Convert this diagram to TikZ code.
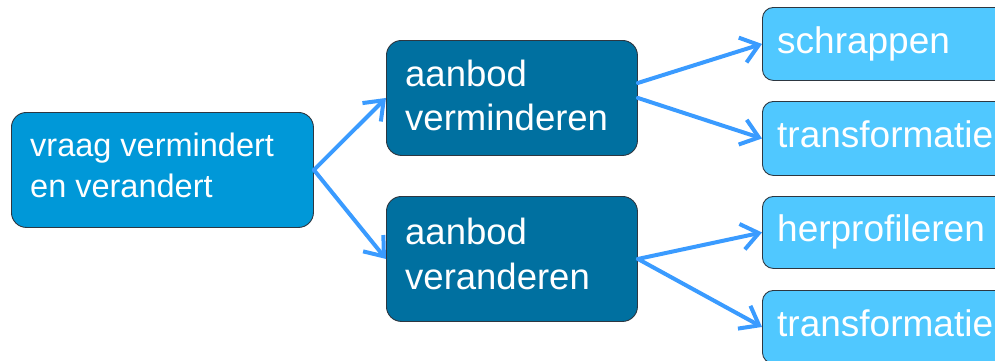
\documentclass[tikz,border=0pt]{standalone}
\usepackage{fontspec}
\setmainfont{Liberation Sans}
\usetikzlibrary{arrows.meta,calc}
\definecolor{rootblue}{RGB}{0,152,216}
\definecolor{midblue}{RGB}{0,112,160}
\definecolor{leafblue}{RGB}{80,200,255}
\definecolor{linkblue}{RGB}{58,155,255}
\definecolor{edgegray}{RGB}{45,55,65}

\begin{document}
\begin{tikzpicture}[x=1pt,y=-1pt,
  box/.style={draw=edgegray, line width=0.9pt, inner sep=0pt, anchor=north west},
  rootbox/.style={box, fill=rootblue, rounded corners=15pt, minimum width=302pt, minimum height=115pt},
  midbox/.style={box, fill=midblue, rounded corners=15pt, minimum width=251pt},
  leafbox/.style={box, fill=leafblue, rounded corners=11pt, minimum width=260pt, minimum height=73pt},
  boxtext/.style={text=white, inner sep=0pt, anchor=north west, align=left},
  leaftext/.style={text=white, inner sep=0pt, anchor=base west, font=\fontsize{37}{44}\selectfont},
  link/.style={draw=linkblue, line width=4pt, line cap=round, -{Straight Barb[length=17pt,width=26pt]}}
]
\useasboundingbox (0,0) rectangle (995,360);
\clip (0,0) rectangle (995,360);

% boxes
\node[rootbox] (root) at (11,112) {};
\node[midbox, minimum height=115pt] (less) at (386,40) {};
\node[midbox, minimum height=125pt] (change) at (386,196) {};
\node[leafbox] (scrap) at (762,7) {};
\node[leafbox, minimum height=74pt] (transA) at (762,101) {};
\node[leafbox, minimum height=72pt] (reprof) at (762,196) {};
\node[leafbox] (transB) at (762,290) {};

% texts
\node[boxtext, font=\fontsize{32.5}{41}\selectfont] (rootT) at (30,133) {vraag vermindert\\en verandert};
\node[boxtext, font=\fontsize{36.5}{44}\selectfont] (lessT) at (405,60) {aanbod\\verminderen};
\node[boxtext, font=\fontsize{36.5}{45}\selectfont] (changeT) at (405,218) {aanbod\\veranderen};
\node[leaftext] (scrapT) at ([xshift=15pt,yshift=-9.5pt]scrap.west) {schrappen};
\node[leaftext] (transAT) at ([xshift=15pt,yshift=-9.5pt]transA.west) {transformatie};
\node[leaftext] (reprofT) at ([xshift=15pt,yshift=-9.5pt]reprof.west) {herprofileren};
\node[leaftext] (transBT) at ([xshift=15pt,yshift=-9.5pt]transB.west) {transformatie};

% connectors
\draw[link] (root.east) -- (less.west);
\draw[link] (root.east) -- (change.west);
\draw[link] ([yshift=15pt]less.east) -- (scrap.west);
\draw[link] (less.east) -- (transA.west);
\draw[link] (change.east) -- (reprof.west);
\draw[link] (change.east) -- (transB.west);
\end{tikzpicture}
\end{document}
